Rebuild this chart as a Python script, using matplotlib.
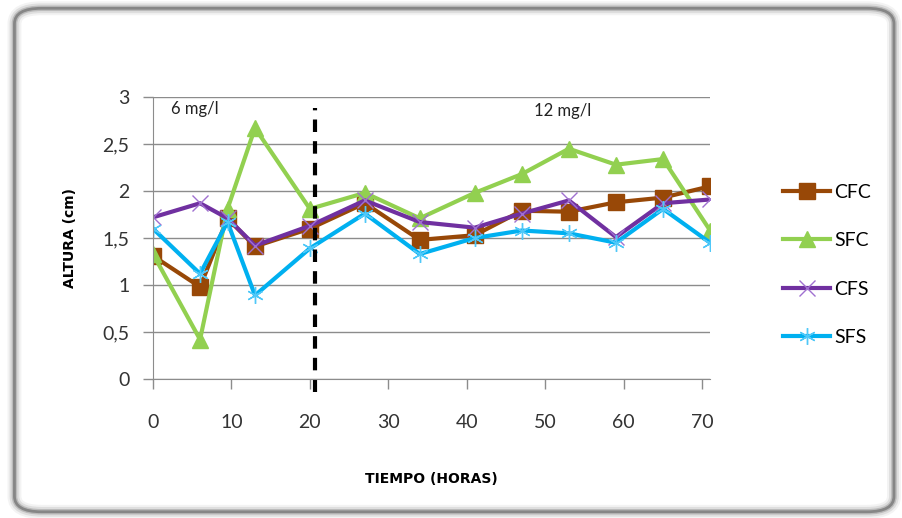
import matplotlib.pyplot as plt
from matplotlib.patches import FancyBboxPatch

# time (hours)
horas = [0, 6, 9.5, 13, 20, 27, 34, 41, 47, 53, 59, 65, 71]
cfc = [1.31, 0.98, 1.71, 1.41, 1.60, 1.87, 1.48, 1.53, 1.79, 1.78, 1.88, 1.93, 2.05]
sfc = [1.33, 0.42, 1.81, 2.67, 1.81, 1.98, 1.71, 1.98, 2.18, 2.45, 2.28, 2.34, 1.58]
cfs = [1.72, 1.87, 1.71, 1.42, 1.63, 1.90, 1.67, 1.61, 1.76, 1.90, 1.51, 1.87, 1.91]
sfs = [1.60, 1.12, 1.67, 0.89, 1.39, 1.76, 1.33, 1.50, 1.58, 1.55, 1.45, 1.81, 1.45]
yticks = [0, 0.5, 1, 1.5, 2, 2.5, 3]
ylabels = ["0", "0,5", "1", "1,5", "2", "2,5", "3"]
xticks = [0, 10, 20, 30, 40, 50, 60, 70]
corte = 20.6

plt.rcParams['font.family'] = ['Lato', 'DejaVu Sans']

fig = plt.figure(figsize=(9.03, 5.18), dpi=100)

# rounded frame with soft shadow
for lw, a in [(10, 0.08), (7, 0.15), (4, 0.3), (2, 0.65)]:
    fig.patches.append(FancyBboxPatch((0.016, 0.012), 0.974, 0.972,
                                      boxstyle="round,pad=0,rounding_size=0.03",
                                      transform=fig.transFigure, facecolor='none',
                                      edgecolor='#6a6a6a', lw=lw, alpha=a))

ax = fig.add_axes([0.1694, 0.2683, 0.617, 0.5444])

ax.plot(horas, cfc, color='#984807', lw=3, marker='s', ms=11, mfc='#984807',
        mec='#984807', label='CFC')
ax.plot(horas, sfc, color='#92D050', lw=3, marker='^', ms=12, mfc='#92D050',
        mec='#92D050', label='SFC')
ax.plot(horas, cfs, color='#7030A0', lw=3, marker='x', ms=11, mew=1, mec='#A070D0',
        label='CFS')
ax.plot(horas, sfs, color='#00B0F0', lw=3, marker=(6, 2, 0), ms=12, mew=1,
        mec='#50C8F8', label='SFS')

ax.plot([corte, corte], [-0.14, 2.88], color='black', lw=3, ls=(0, (3, 2.2)),
        clip_on=False)

ax.set_xlim(0, 71)
ax.set_ylim(0, 3)
ax.set_yticks(yticks)
ax.set_yticklabels(ylabels)
ax.set_xticks(xticks)
ax.grid(axis='y', color='#8c8c8c', lw=1)
ax.set_axisbelow(True)
for s in ['top', 'right']:
    ax.spines[s].set_visible(False)
for s in ['left', 'bottom']:
    ax.spines[s].set_color('#8c8c8c')
ax.tick_params(axis='both', colors='#8c8c8c', labelcolor='#333333',
               labelsize=14, length=7, width=1)
ax.tick_params(axis='y', pad=10)
ax.tick_params(axis='x', pad=18)

ax.text(2.3, 2.87, '6 mg/l', fontsize=12, color='#222222', va='center')
ax.text(48.5, 2.85, '12 mg/l', fontsize=12, color='#222222', va='center')

ax.set_ylabel('ALTURA (cm)', family=['Liberation Sans Narrow', 'DejaVu Sans'],
              fontsize=10, fontweight='bold', labelpad=18)
ax.set_xlabel('TIEMPO (HORAS)', family=['Liberation Sans Narrow', 'DejaVu Sans'],
              fontsize=10, fontweight='bold', labelpad=30)

ax.legend(loc='center left', bbox_to_anchor=(1.1, 0.405), frameon=False,
          fontsize=14, handlelength=2.4, handletextpad=0.2, labelspacing=1.62)

fig.savefig('out.png', dpi=100)
